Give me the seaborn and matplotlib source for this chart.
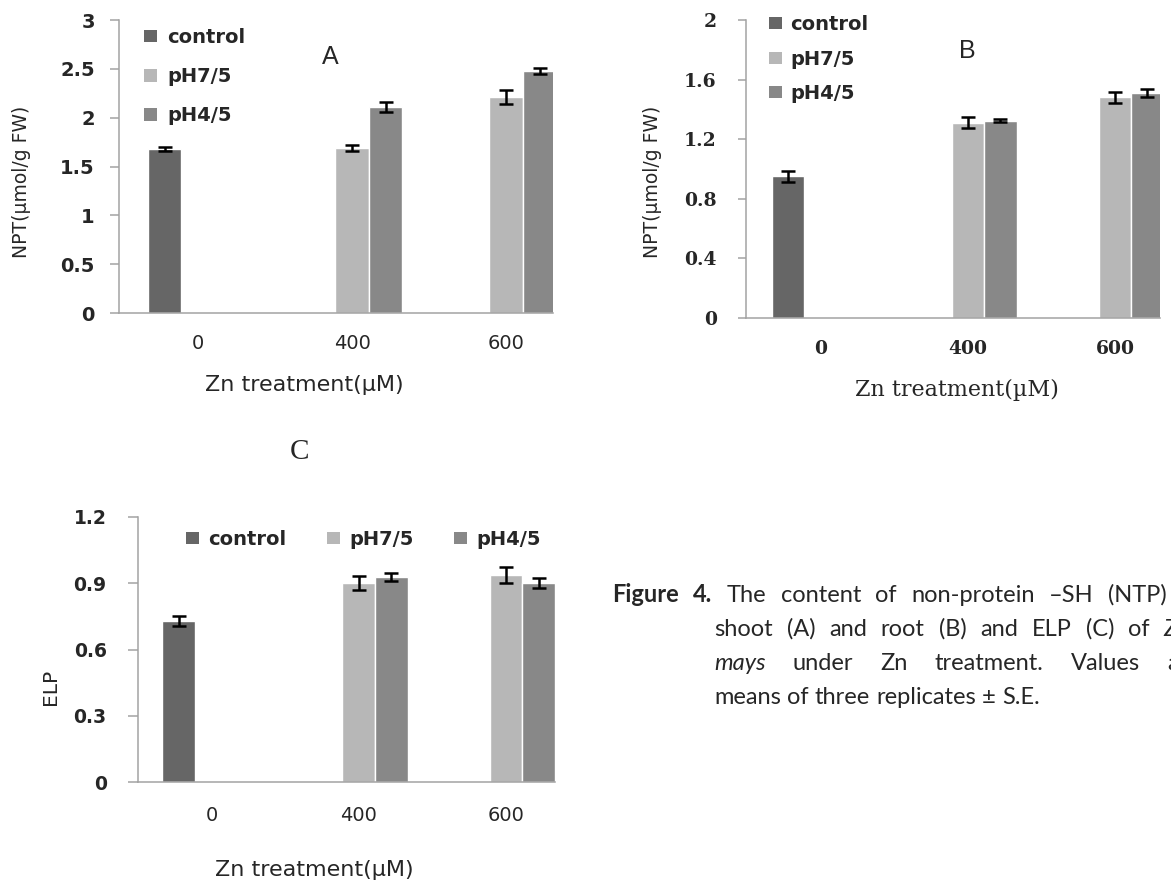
import matplotlib
matplotlib.use("Agg")
import matplotlib.pyplot as plt
from matplotlib import font_manager as fm
from matplotlib.colors import to_rgba
import seaborn as sns
import pandas as pd

# ---------------- data ----------------
treatments = ["0", "400", "600"]
groups = ["control", "pH7/5", "pH4/5"]
bar_treatment = ["0", "400", "400", "600", "600"]
bar_group = ["control", "pH7/5", "pH4/5", "pH7/5", "pH4/5"]

shoot_npt = [1.68, 1.69, 2.11, 2.21, 2.48]
shoot_npt_se = [0.02, 0.03, 0.05, 0.07, 0.03]
root_npt = [0.95, 1.31, 1.325, 1.48, 1.51]
root_npt_se = [0.036, 0.037, 0.01, 0.035, 0.025]
elp = [0.73, 0.90, 0.926, 0.938, 0.90]
elp_se = [0.022, 0.032, 0.018, 0.036, 0.024]

a_yticks = [0, 0.5, 1, 1.5, 2, 2.5, 3]
a_yticklabels = ["0", "0.5", "1", "1.5", "2", "2.5", "3"]
b_yticks = [0, 0.4, 0.8, 1.2, 1.6, 2]
b_yticklabels = ["0", "0.4", "0.8", "1.2", "1.6", "2"]
c_yticks = [0, 0.3, 0.6, 0.9, 1.2]
c_yticklabels = ["0", "0.3", "0.6", "0.9", "1.2"]

xlabel_text = "Zn treatment(\u00b5M)"
npt_label = "NPT(\u00b5mol/g FW)"
elp_label = "ELP"

colors = {"control": "#666666", "pH7/5": "#b7b7b7", "pH4/5": "#888888"}
axis_color = "#a3a3a3"

# ---------------- fonts ----------------
def has_font(name):
    try:
        fm.findfont(fm.FontProperties(family=name), fallback_to_default=False)
        return True
    except Exception:
        return False

NARROW = "Liberation Sans Narrow" if has_font("Liberation Sans Narrow") else None
SANS = "DejaVu Sans"
SERIF = "DejaVu Serif"
ARIAL = "Liberation Sans" if has_font("Liberation Sans") else SANS
TIMES = "Liberation Serif" if has_font("Liberation Serif") else SERIF
CAPFONT = "Lato" if has_font("Lato") else ("Open Sans" if has_font("Open Sans") else SANS)

sns.set_style("white")
plt.rcParams["font.family"] = [SANS]

W, H = 1171, 884
fig = plt.figure(figsize=(W / 100, H / 100), dpi=100)
fig.patch.set_facecolor("white")

LEG_SIZE = 14


def draw_panel(box, means, ses, xlim, width, ylim, yticks, yticklabels,
               ylabel, yfont, xfont, xlabfont, ylabfont,
               ytick_len, ytick_pad, xtick_pad,
               xlab_px, ylab_px, legend_px, legend_kw):
    l, t, r, b = box
    ax = fig.add_axes([l / W, 1 - b / H, (r - l) / W, (b - t) / H])
    df = pd.DataFrame({"treatment": bar_treatment, "group": bar_group,
                       "value": means, "se": ses})
    sns.barplot(data=df, x="treatment", y="value", hue="group",
                order=treatments, hue_order=groups, palette=colors,
                saturation=1, width=width, gap=0, errorbar=None,
                dodge=True, ax=ax, legend=True)
    # error bars, placed at the centre of each drawn bar
    col2grp = {to_rgba(c)[:3]: g for g, c in colors.items()}
    for p in list(ax.patches):
        if p.get_height() <= 0:
            continue
        key = p.get_facecolor()[:3]
        grp = None
        for k, g in col2grp.items():
            if all(abs(a - bb) < 1e-3 for a, bb in zip(k, key)):
                grp = g
        cx = p.get_x() + p.get_width() / 2
        cat = treatments[int(round(cx))]
        row = df[(df.group == grp) & (df.treatment == cat)]
        if len(row) == 0:
            continue
        ax.errorbar(cx, row.value.iloc[0], yerr=row.se.iloc[0], fmt="none",
                    ecolor="black", elinewidth=1.8, capsize=5.2,
                    capthick=1.8, zorder=5)

    ax.set_xlim(*xlim)
    ax.set_ylim(*ylim)
    ax.set_yticks(yticks)
    ax.set_yticklabels(yticklabels, **yfont)
    ax.set_xticks(range(len(treatments)))
    ax.set_xticklabels(treatments, **xfont)
    for s in ["top", "right"]:
        ax.spines[s].set_visible(False)
    for s in ["left", "bottom"]:
        ax.spines[s].set_color(axis_color)
        ax.spines[s].set_linewidth(1.1)
    ax.tick_params(axis="y", length=ytick_len, width=1.1, color=axis_color,
                   pad=ytick_pad, left=True)
    ax.tick_params(axis="x", length=0, pad=xtick_pad, bottom=True)
    ax.grid(False)

    ax.set_xlabel(xlabel_text, **xlabfont)
    ax.xaxis.set_label_coords((xlab_px[0] - l) / (r - l), (b - xlab_px[1]) / (b - t))
    ax.xaxis.label.set_va("center")
    ax.set_ylabel(ylabel, **ylabfont)
    ax.yaxis.set_label_coords((ylab_px[0] - l) / (r - l), (b - ylab_px[1]) / (b - t))
    ax.yaxis.label.set_va("center")

    old = ax.get_legend()
    handles = old.legend_handles
    labels = [tx.get_text() for tx in old.get_texts()]
    old.remove()
    for h in handles:
        h.set_edgecolor("none")
    ax.legend(handles, labels, loc="upper left",
              bbox_to_anchor=((legend_px[0] - l) / (r - l), (b - legend_px[1]) / (b - t)),
              borderaxespad=0, borderpad=0, frameon=False,
              prop=dict(family=SANS, weight="bold", size=LEG_SIZE),
              handlelength=0.68, handleheight=0.6, **legend_kw)
    return ax


ylab_font = (dict(family=NARROW, fontsize=17) if NARROW else dict(family=SANS, fontsize=13.5))
elp_font = (dict(family=NARROW, fontsize=17) if NARROW else dict(family=SANS, fontsize=14.5))

# Panel A : shoot NPT
draw_panel((119, 20, 553, 313), shoot_npt, shoot_npt_se,
           (-0.513, 2.305), 0.6525, (0, 3), a_yticks, a_yticklabels,
           npt_label,
           dict(family=SANS, fontweight="bold", fontsize=14),
           dict(family=SANS, fontsize=14),
           dict(family=SANS, fontsize=16),
           ylab_font,
           6.5, 11, 15,
           (304, 385), (22, 182), (144, 28),
           dict(labelspacing=1.04, handletextpad=0.5))

# Panel B : root NPT
draw_panel((745.7, 20, 1160, 318), root_npt, root_npt_se,
           (-0.509, 2.306), 0.663, (0, 2), b_yticks, b_yticklabels,
           npt_label,
           dict(family=SERIF, fontweight="bold", fontsize=13.5),
           dict(family=SERIF, fontweight="bold", fontsize=13.5),
           dict(family=SERIF, fontsize=16),
           ylab_font,
           5.8, 15, 15.5,
           (957, 390), (653, 182), (769, 15),
           dict(labelspacing=0.8, handletextpad=0.4))

# Panel C : ELP
draw_panel((137.8, 516.7, 555, 782.3), elp, elp_se,
           (-0.4997, 2.333), 0.666, (0, 1.2), c_yticks, c_yticklabels,
           elp_label,
           dict(family=SANS, fontweight="bold", fontsize=13.5),
           dict(family=SANS, fontsize=14),
           dict(family=SANS, fontsize=16),
           elp_font,
           7.4, 15, 17,
           (314, 870), (50, 687), (186, 530),
           dict(ncol=3, columnspacing=2.1, handletextpad=0.45))

# panel letters
fig.text(330 / W, 1 - 57 / H, "A", family=ARIAL, fontsize=18, ha="center", va="center")
fig.text(967 / W, 1 - 51 / H, "B", family=ARIAL, fontsize=18, ha="center", va="center")
fig.text(299.5 / W, 1 - 452 / H, "C", family=TIMES, fontsize=21, ha="center", va="center")

# ---------------- caption ----------------
renderer = fig.canvas.get_renderer()
CAP_SIZE = 17
RIGHT = 1200


def place_line(words, x0, baseline, justify):
    texts = []
    for w, st in words:
        tx = fig.text(x0 / W, 1 - baseline / H, w, family=CAPFONT,
                      fontsize=CAP_SIZE, va="baseline", ha="left", **st)
        texts.append(tx)
    widths = [tx.get_window_extent(renderer).width for tx in texts]
    if justify and len(texts) > 1:
        gap = (RIGHT - x0 - sum(widths)) / (len(texts) - 1)
    else:
        gap = 0.26 * CAP_SIZE * 100 / 72
    x = x0
    for tx, wd in zip(texts, widths):
        tx.set_x(x / W)
        x += wd + gap


B_ = dict(fontweight="bold")
N_ = dict()
I_ = dict(fontstyle="italic")
line1 = [("Figure", B_), ("4.", B_)] + [(w, N_) for w in
         ["The", "content", "of", "non-protein", "\u2013SH", "(NTP)", "in"]]
line2 = [(w, N_) for w in ["shoot", "(A)", "and", "root", "(B)", "and", "ELP", "(C)", "of"]] + [("Zea", I_)]
line3 = [("mays", I_)] + [(w, N_) for w in ["under", "Zn", "treatment.", "Values", "are"]]
line4 = [(w, N_) for w in ["means", "of", "three", "replicates", "\u00b1", "S.E."]]

place_line(line1, 612, 602, True)
place_line(line2, 714, 636, True)
place_line(line3, 714, 670, True)
place_line(line4, 714, 704, False)

fig.savefig("out.png", dpi=100, facecolor="white")
